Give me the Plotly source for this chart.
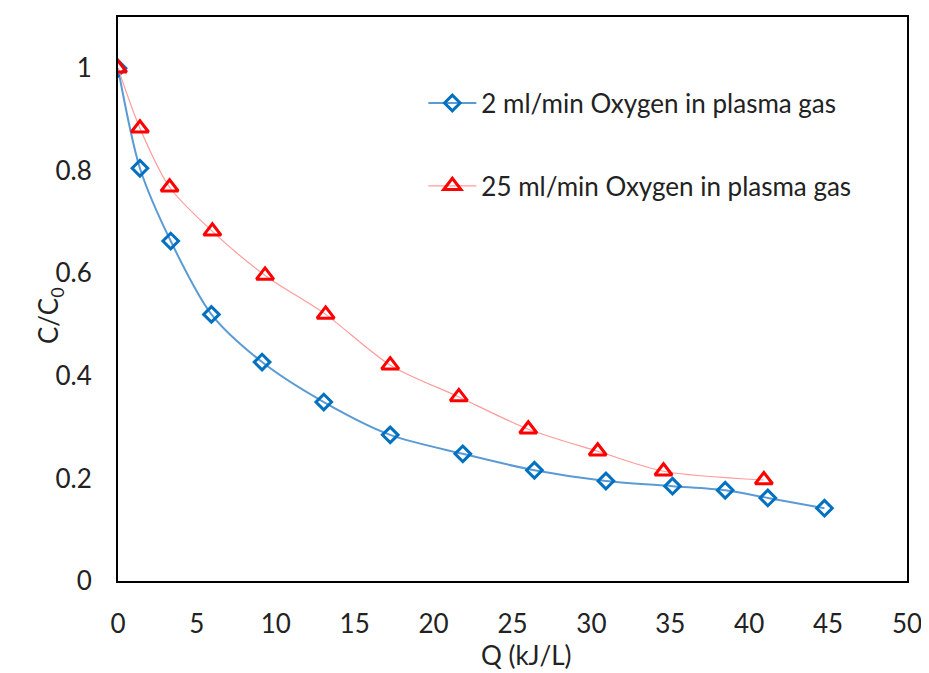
import plotly.graph_objects as go

# series
q_2ml = [0, 1.39, 3.34, 5.92, 9.13, 13.04, 17.25, 21.85, 26.39, 30.92, 35.14, 38.48, 41.18, 44.77]
c_2ml = [1.0, 0.805, 0.663, 0.520, 0.427, 0.349, 0.285, 0.248, 0.216, 0.195, 0.185, 0.177, 0.162, 0.142]

q_25ml = [0, 1.39, 3.27, 5.98, 9.32, 13.16, 17.25, 21.6, 26.0, 30.4, 34.57, 40.93]
c_25ml = [1.0, 0.883, 0.768, 0.682, 0.596, 0.520, 0.421, 0.359, 0.296, 0.253, 0.214, 0.197]

x_ticks = [0, 5, 10, 15, 20, 25, 30, 35, 40, 45, 50]
y_ticks = [0, 0.2, 0.4, 0.6, 0.8, 1]
y_tick_labels = ["0", "0.2", "0.4", "0.6", "0.8", "1"]

FONT = "Lato, 'Open Sans', sans-serif"
TEXT_COLOUR = "#222222"
FONT_SIZE = 26

fig = go.Figure()

fig.add_trace(
    go.Scatter(
        x=q_2ml,
        y=c_2ml,
        mode="lines+markers",
        name="2 ml/min Oxygen in plasma gas",
        legendgroup="a",
        line=dict(color="#5B9BD5", width=2, shape="spline", smoothing=0.8),
        marker=dict(
            symbol="diamond-open",
            size=12,
            color="#0070C0",
            line=dict(width=3, color="#0070C0"),
        ),
    )
)

fig.add_trace(
    go.Scatter(
        x=q_25ml,
        y=c_25ml,
        mode="lines+markers",
        name="25 ml/min Oxygen in plasma gas",
        legendgroup="b",
        line=dict(color="#FF9B9B", width=1.2, shape="spline", smoothing=0.8),
        marker=dict(
            symbol="triangle-up-open",
            size=15,
            color="#FF0000",
            line=dict(width=3, color="#FF0000"),
        ),
    )
)

fig.update_xaxes(
    range=[0, 50],
    tickvals=x_ticks,
    showgrid=False,
    zeroline=False,
    showline=True,
    linecolor="black",
    linewidth=2,
    mirror=True,
    ticks="",
    ticklabelstandoff=19,
    tickfont=dict(size=FONT_SIZE, color=TEXT_COLOUR, family=FONT),
)

fig.update_yaxes(
    range=[0, 1.1],
    tickvals=y_ticks,
    ticktext=y_tick_labels,
    showgrid=False,
    zeroline=False,
    showline=True,
    linecolor="black",
    linewidth=2,
    mirror=True,
    ticks="",
    ticklabelstandoff=19,
    tickfont=dict(size=FONT_SIZE, color=TEXT_COLOUR, family=FONT),
)

# axis titles placed as annotations so they sit where the reference has them
fig.add_annotation(
    text="Q (kJ/L)",
    xref="paper", yref="paper",
    x=0.517, y=-0.132,
    xanchor="center", yanchor="middle",
    showarrow=False,
    font=dict(size=FONT_SIZE, color=TEXT_COLOUR, family=FONT),
)
fig.add_annotation(
    text="C/C<sub>0</sub>",
    xref="paper", yref="paper",
    x=-0.086, y=0.47,
    xanchor="center", yanchor="middle",
    textangle=-90,
    showarrow=False,
    font=dict(size=FONT_SIZE, color=TEXT_COLOUR, family=FONT),
)

# the page body adds ~8px margin, so the figure is trimmed to fit the window
fig.update_layout(
    width=921,
    height=665,
    margin=dict(l=110, r=18, t=7, b=92, pad=0),
    paper_bgcolor="white",
    plot_bgcolor="white",
    showlegend=True,
    legend=dict(
        x=0.387,
        y=0.889,
        xanchor="left",
        yanchor="top",
        bgcolor="rgba(0,0,0,0)",
        font=dict(size=FONT_SIZE, color=TEXT_COLOUR, family=FONT),
        tracegroupgap=46,
        itemwidth=48,
    ),
)

fig.write_html("out.html")
